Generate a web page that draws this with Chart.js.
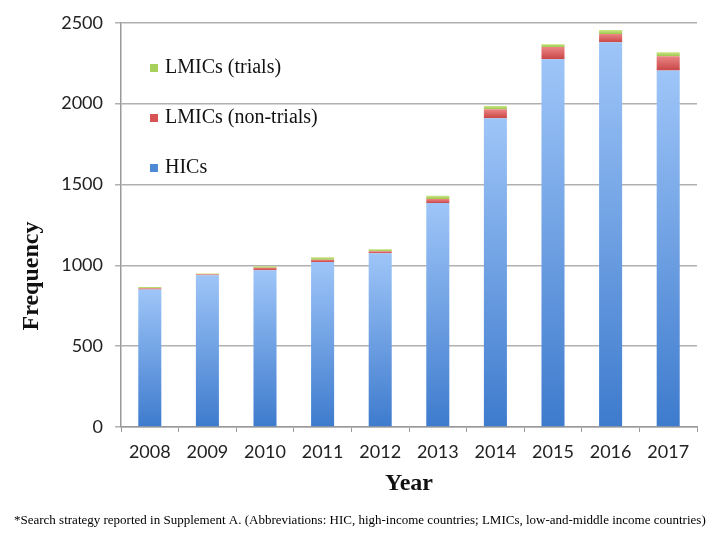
<!DOCTYPE html>
<html>
<head>
<meta charset="utf-8">
<script src="https://cdn.jsdelivr.net/npm/chart.js@4/dist/chart.umd.min.js"></script>
<style>
  html, body { margin: 0; padding: 0; background: #fff; }
  #wrap { width: 724px; height: 535px; position: relative; }
</style>
</head>
<body>
<div id="wrap"><canvas id="c" width="724" height="535"></canvas></div>
<script>
const years = ['2008','2009','2010','2011','2012','2013','2014','2015','2016','2017'];
const hics = [850, 938, 970, 1020, 1075, 1385, 1910, 2275, 2380, 2205];
const lmicsNonTrials = [8, 6, 15, 15, 12, 25, 55, 75, 50, 88];
const lmicsTrials = [8, 6, 10, 15, 13, 20, 20, 18, 25, 25];
const yTicks = [0, 500, 1000, 1500, 2000, 2500];
const seriesNames = ['HICs', 'LMICs (non-trials)', 'LMICs (trials)'];
const yTitle = 'Frequency';
const xTitle = 'Year';
const footnote = '*Search strategy reported in Supplement A. (Abbreviations: HIC, high-income countries; LMICs, low-and-middle income countries)';

const palette = [
  ['#9ec5f8', '#3e7bcd'],
  ['#ec8585', '#c94646'],
  ['#cbe483', '#9bc84e']
];
const swatch = ['#4f89d6', '#d85454', '#a8d05c'];

function gradFill(dsIndex) {
  return function(ctx) {
    const chart = ctx.chart;
    const area = chart.chartArea;
    if (!area || ctx.type !== 'data') return palette[dsIndex][1];
    const y = chart.scales.y;
    const i = ctx.dataIndex;
    let base = 0;
    for (let k = 0; k < dsIndex; k++) base += chart.data.datasets[k].data[i];
    const top = base + chart.data.datasets[dsIndex].data[i];
    const y0 = y.getPixelForValue(base);
    const y1 = y.getPixelForValue(top);
    if (!isFinite(y0) || !isFinite(y1) || y0 === y1) return palette[dsIndex][1];
    const g = chart.ctx.createLinearGradient(0, y1, 0, y0);
    g.addColorStop(0, palette[dsIndex][0]);
    g.addColorStop(1, palette[dsIndex][1]);
    return g;
  };
}

const legendPlugin = {
  id: 'insideLegend',
  afterDraw(chart) {
    const ctx = chart.ctx;
    ctx.save();
    ctx.font = '20px "Liberation Serif"';
    ctx.textBaseline = 'middle';
    const order = [2, 1, 0];
    const ys = [68, 118, 168];
    order.forEach((d, k) => {
      ctx.fillStyle = swatch[d];
      ctx.fillRect(150, ys[k] - 4, 8, 8);
      ctx.fillStyle = '#111';
      ctx.fillText(chart.data.datasets[d].label, 165, ys[k]);
    });
    ctx.restore();
  }
};

const textPlugin = {
  id: 'extraText',
  afterDraw(chart) {
    const ctx = chart.ctx;
    ctx.save();
    ctx.font = '13px "Liberation Serif"';
    ctx.textBaseline = 'middle';
    ctx.fillStyle = '#000';
    ctx.fillText(footnote, 14, 521);
    ctx.translate(32, 276);
    ctx.rotate(-Math.PI / 2);
    ctx.font = 'bold 24px "Liberation Serif"';
    ctx.textAlign = 'center';
    ctx.fillStyle = '#111';
    ctx.fillText(yTitle, 0, 0);
    ctx.restore();
  }
};

new Chart(document.getElementById('c'), {
  type: 'bar',
  data: {
    labels: years,
    datasets: [
      { label: seriesNames[0], data: hics, backgroundColor: gradFill(0) },
      { label: seriesNames[1], data: lmicsNonTrials, backgroundColor: gradFill(1) },
      { label: seriesNames[2], data: lmicsTrials, backgroundColor: gradFill(2) }
    ]
  },
  options: {
    responsive: false,
    animation: false,
    events: [],
    layout: { padding: { top: 17, left: 0, right: 27, bottom: 0 } },
    datasets: { bar: { categoryPercentage: 1, barPercentage: 0.4, borderWidth: 0 } },
    plugins: {
      legend: { display: false },
      tooltip: { enabled: false }
    },
    scales: {
      x: {
        stacked: true,
        afterFit(s) { s.height = 108; },
        grid: { drawOnChartArea: false, drawTicks: true, tickLength: 5, color: '#9a9a9a', offset: true },
        border: { color: '#9a9a9a', width: 1.5 },
        ticks: { font: { family: 'Lato', size: 18 }, color: '#222', padding: 9, maxRotation: 0 },
        title: { display: true, text: xTitle, font: { family: 'Liberation Serif', size: 24, weight: 'bold' }, color: '#111', padding: { top: 0, bottom: 37 } }
      },
      y: {
        stacked: true,
        min: 0, max: 2500,
        afterFit(s) { s.width = 121; },
        afterBuildTicks(s) { s.ticks = yTicks.map(v => ({ value: v })); },
        grid: { color: '#b0b0b0', lineWidth: 1.5, tickLength: 6 },
        border: { color: '#9a9a9a', width: 1.5 },
        ticks: { font: { family: 'Lato', size: 18 }, color: '#222', padding: 12, callback: v => String(v) }
      }
    }
  },
  plugins: [legendPlugin, textPlugin]
});
</script>
</body>
</html>
